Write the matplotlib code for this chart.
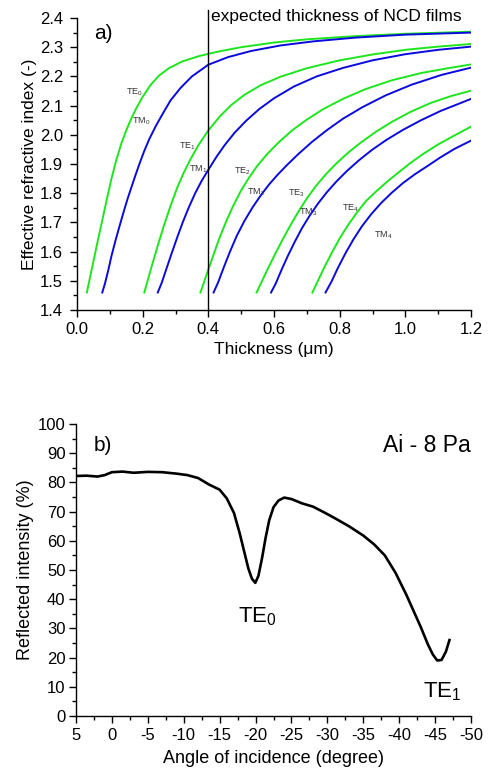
import matplotlib
matplotlib.use("Agg")
import matplotlib.pyplot as plt
from matplotlib.ticker import MultipleLocator, FuncFormatter

plt.rcParams['font.family'] = ['Liberation Sans', 'DejaVu Sans']
plt.rcParams['mathtext.fontset'] = 'custom'
plt.rcParams['mathtext.rm'] = 'Liberation Sans'
plt.rcParams['mathtext.it'] = 'Liberation Sans:italic'
plt.rcParams['axes.unicode_minus'] = False

# ---------------- panel a) : mode curves (thickness in um, effective index) ----------------
te0_d = [0.030, 0.045, 0.060, 0.075, 0.090, 0.105, 0.120, 0.135, 0.150, 0.165, 0.180, 0.200, 0.225,
         0.250, 0.280, 0.320, 0.370, 0.430, 0.500, 0.600, 0.700, 0.850, 1.000, 1.200]
te0_n = [1.460, 1.540, 1.620, 1.697, 1.775, 1.850, 1.915, 1.970, 2.015, 2.055, 2.090, 2.130, 2.172,
         2.203, 2.228, 2.251, 2.269, 2.285, 2.300, 2.316, 2.327, 2.338, 2.346, 2.353]
tm0_d = [0.077, 0.085, 0.095, 0.105, 0.117, 0.129, 0.141, 0.153, 0.165, 0.177, 0.190, 0.205, 0.220,
         0.240, 0.260, 0.285, 0.315, 0.350, 0.400, 0.460, 0.530, 0.620, 0.720, 0.850, 1.000, 1.200]
tm0_n = [1.460, 1.490, 1.535, 1.585, 1.637, 1.685, 1.732, 1.777, 1.818, 1.858, 1.900, 1.945, 1.985,
         2.030, 2.070, 2.118, 2.160, 2.200, 2.240, 2.266, 2.287, 2.306, 2.320, 2.333, 2.343, 2.350]
te1_d = [0.205, 0.225, 0.245, 0.265, 0.285, 0.305, 0.325, 0.345, 0.370, 0.400, 0.435, 0.470, 0.510,
         0.560, 0.620, 0.700, 0.800, 0.900, 1.000, 1.100, 1.200]
te1_n = [1.460, 1.540, 1.617, 1.690, 1.757, 1.818, 1.870, 1.915, 1.965, 2.015, 2.063, 2.102, 2.137,
         2.170, 2.199, 2.228, 2.255, 2.275, 2.291, 2.302, 2.311]
tm1_d = [0.246, 0.258, 0.272, 0.288, 0.305, 0.322, 0.340, 0.360, 0.380, 0.400, 0.425, 0.450, 0.480,
         0.515, 0.555, 0.600, 0.660, 0.730, 0.810, 0.900, 1.000, 1.100, 1.200]
tm1_n = [1.460, 1.493, 1.540, 1.593, 1.648, 1.700, 1.750, 1.800, 1.843, 1.880, 1.925, 1.965, 2.007,
         2.048, 2.088, 2.125, 2.165, 2.200, 2.229, 2.255, 2.276, 2.291, 2.302]
te2_d = [0.376, 0.395, 0.415, 0.435, 0.455, 0.475, 0.500, 0.525, 0.550, 0.580, 0.615, 0.655, 0.700,
         0.750, 0.810, 0.880, 0.960, 1.050, 1.130, 1.200]
te2_n = [1.460, 1.522, 1.587, 1.650, 1.705, 1.755, 1.810, 1.855, 1.895, 1.935, 1.975, 2.015, 2.052,
         2.088, 2.123, 2.157, 2.187, 2.212, 2.228, 2.241]
tm2_d = [0.416, 0.430, 0.447, 0.466, 0.487, 0.510, 0.535, 0.560, 0.585, 0.610, 0.640, 0.675, 0.715,
         0.760, 0.810, 0.870, 0.940, 1.020, 1.110, 1.200]
tm2_n = [1.460, 1.495, 1.546, 1.600, 1.655, 1.705, 1.752, 1.793, 1.830, 1.862, 1.897, 1.935, 1.975,
         2.015, 2.055, 2.095, 2.135, 2.172, 2.205, 2.230]
te3_d = [0.547, 0.565, 0.585, 0.605, 0.627, 0.650, 0.675, 0.700, 0.728, 0.758, 0.790, 0.825, 0.865,
         0.910, 0.960, 1.015, 1.075, 1.140, 1.200]
te3_n = [1.460, 1.503, 1.550, 1.595, 1.643, 1.690, 1.738, 1.782, 1.825, 1.865, 1.902, 1.938, 1.974,
         2.010, 2.045, 2.078, 2.108, 2.133, 2.151]
tm3_d = [0.591, 0.605, 0.622, 0.642, 0.663, 0.685, 0.708, 0.733, 0.760, 0.790, 0.822, 0.858, 0.898,
         0.943, 0.993, 1.048, 1.108, 1.160, 1.200]
tm3_n = [1.460, 1.490, 1.535, 1.585, 1.633, 1.680, 1.722, 1.763, 1.802, 1.840, 1.876, 1.912, 1.948,
         1.983, 2.017, 2.050, 2.082, 2.105, 2.123]
te4_d = [0.717, 0.735, 0.755, 0.777, 0.800, 0.825, 0.852, 0.880, 0.910, 0.943, 0.978, 1.015, 1.055,
         1.100, 1.150, 1.200]
te4_n = [1.460, 1.503, 1.550, 1.598, 1.645, 1.690, 1.733, 1.773, 1.805, 1.838, 1.870, 1.903, 1.935,
         1.967, 1.998, 2.028]
tm4_d = [0.757, 0.775, 0.795, 0.818, 0.842, 0.868, 0.896, 0.926, 0.958, 0.992, 1.028, 1.066, 1.106,
         1.150, 1.200]
tm4_n = [1.460, 1.497, 1.545, 1.595, 1.642, 1.687, 1.728, 1.766, 1.801, 1.834, 1.864, 1.892, 1.922,
         1.952, 1.980]

te_curves = [(te0_d, te0_n), (te1_d, te1_n), (te2_d, te2_n), (te3_d, te3_n), (te4_d, te4_n)]
tm_curves = [(tm0_d, tm0_n), (tm1_d, tm1_n), (tm2_d, tm2_n), (tm3_d, tm3_n), (tm4_d, tm4_n)]

mode_labels = ['TE$_0$', 'TM$_0$', 'TE$_1$', 'TM$_1$', 'TE$_2$', 'TM$_2$', 'TE$_3$', 'TM$_3$', 'TE$_4$', 'TM$_4$']
label_d = [0.174, 0.195, 0.336, 0.369, 0.504, 0.546, 0.669, 0.705, 0.834, 0.934]
label_n = [2.147, 2.047, 1.962, 1.883, 1.876, 1.804, 1.800, 1.736, 1.749, 1.657]

expected_thickness = 0.4

# ---------------- panel b) : reflectivity scan ----------------
angle = [5.0, 3.5, 2.0, 1.0, 0.0, -1.5, -3.0, -5.0, -7.0, -9.0, -10.5, -12.0, -13.5, -15.0, -16.0,
         -17.0, -17.8, -18.5, -19.0, -19.5, -19.97, -20.4, -20.9, -21.4, -21.9, -22.5, -23.2, -24.0,
         -25.0, -26.5, -28.0, -29.5, -31.0, -33.0, -35.0, -36.5, -38.0, -39.5, -41.0, -42.0, -43.0,
         -44.0, -44.7, -45.3, -45.9, -46.5, -47.0]
intensity = [82.2, 82.3, 82.0, 82.5, 83.5, 83.7, 83.3, 83.6, 83.5, 83.0, 82.5, 81.5, 79.3, 77.5, 74.5,
             69.5, 62.5, 55.5, 50.5, 47.0, 45.6, 48.0, 54.0, 61.0, 67.0, 71.5, 73.8, 74.8,
             74.3, 72.8, 71.7, 69.8, 67.8, 65.0, 61.8, 58.8, 55.0, 49.0, 41.5, 36.0, 30.5,
             24.5, 21.0, 19.0, 19.2, 22.0, 26.0]

W, H = 489, 769
fig = plt.figure(figsize=(W / 100, H / 100), dpi=100)

green = '#1ee61e'
blue = '#0a0adc'

# panel a
ax1 = fig.add_axes([77 / W, 1 - 310 / H, 394 / W, 292 / H])
for d, n in te_curves:
    ax1.plot(d, n, color=green, lw=1.4)
for d, n in tm_curves:
    ax1.plot(d, n, color=blue, lw=1.4)
ax1.plot([expected_thickness, expected_thickness], [1.4, 2.427], color='black', lw=1.0, clip_on=False)
ax1.text(expected_thickness + 0.009, 2.405, 'expected thickness of NCD films', fontsize=12.5,
         va='center', ha='left')
for lab, d, n in zip(mode_labels, label_d, label_n):
    ax1.text(d, n, lab, fontsize=6.5, ha='center', va='center', color='#333333')
ax1.text(0.052, 2.347, 'a)', fontsize=15, va='center', ha='left')
ax1.set_xlim(0, 1.2)
ax1.set_ylim(1.4, 2.4)
ax1.xaxis.set_major_locator(MultipleLocator(0.2))
ax1.xaxis.set_minor_locator(MultipleLocator(0.1))
ax1.yaxis.set_major_locator(MultipleLocator(0.1))
ax1.yaxis.set_minor_locator(MultipleLocator(0.05))
ax1.xaxis.set_major_formatter(FuncFormatter(lambda v, p: '%.1f' % v))
ax1.yaxis.set_major_formatter(FuncFormatter(lambda v, p: '%.1f' % v))
ax1.set_xlabel('Thickness (μm)', fontsize=12.5, labelpad=4)
ax1.set_ylabel('Effective refractive index (-)', fontsize=12.5, labelpad=2)

# panel b
ax2 = fig.add_axes([76 / W, 1 - 716 / H, 395 / W, 292 / H])
ax2.plot(angle, intensity, color='black', lw=1.9)
ax2.set_xlim(5, -50)
ax2.set_ylim(0, 100)
ax2.xaxis.set_major_locator(MultipleLocator(5))
ax2.xaxis.set_minor_locator(MultipleLocator(2.5))
ax2.yaxis.set_major_locator(MultipleLocator(10))
ax2.yaxis.set_minor_locator(MultipleLocator(5))
ax2.xaxis.set_major_formatter(FuncFormatter(lambda v, p: '%d' % round(v)))
ax2.yaxis.set_major_formatter(FuncFormatter(lambda v, p: '%d' % round(v)))
ax2.text(-17.5, 32.2, 'TE$_0$', fontsize=16, ha='left', va='baseline')
ax2.text(-43.3, 6.2, 'TE$_1$', fontsize=16, ha='left', va='baseline')
ax2.text(-50, 92.8, 'Ai - 8 Pa', fontsize=16.5, ha='right', va='center')
ax2.text(2.6, 92.8, 'b)', fontsize=15, ha='left', va='center')
ax2.set_xlabel('Angle of incidence (degree)', fontsize=13, labelpad=5)
ax2.set_ylabel('Reflected intensity (%)', fontsize=13, labelpad=3)

for ax in (ax1, ax2):
    for s in ('top', 'right'):
        ax.spines[s].set_visible(False)
    ax.spines['left'].set_linewidth(1.0)
    ax.spines['bottom'].set_linewidth(1.0)
    ax.tick_params(which='major', direction='out', length=5, width=1.0, labelsize=12)
    ax.tick_params(which='minor', direction='out', length=3, width=1.0)

ax1.tick_params(axis='y', which='major', pad=5)
ax1.tick_params(axis='x', which='major', pad=3.5)
ax2.tick_params(axis='y', which='major', pad=2.5)
ax2.tick_params(axis='x', which='major', pad=3.5)

fig.savefig('out.png', dpi=100)
